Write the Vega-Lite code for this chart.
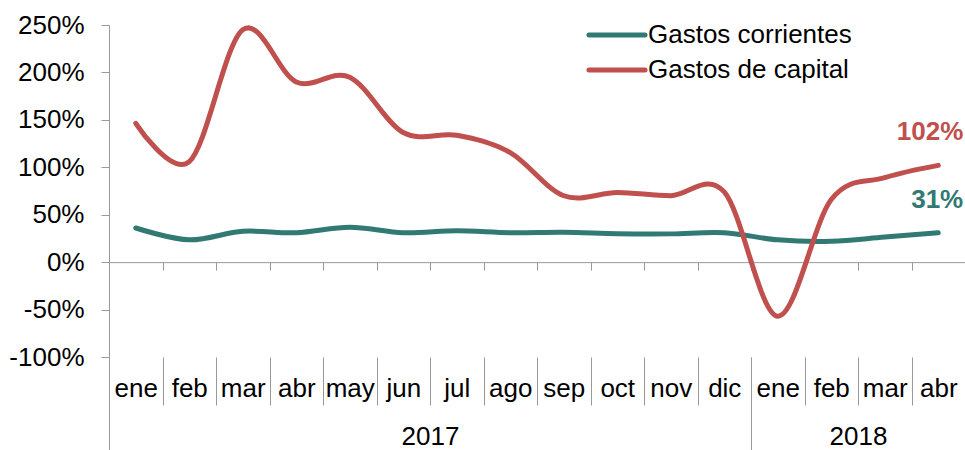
{
  "$schema": "https://vega.github.io/schema/vega-lite/v6.json",
  "autosize": "none",
  "width": 856,
  "height": 332,
  "padding": {"left": 109, "top": 25, "right": 0, "bottom": 93},
  "background": "white",
  "config": {
    "view": {"stroke": null},
    "font": "Liberation Sans",
    "axis": {"grid": false, "title": null, "labelFont": "Liberation Sans", "labelColor": "#000000", "domainColor": "#999999", "tickColor": "#999999"},
    "legend": {"labelFont": "Liberation Sans"}
  },
  "datasets": {
    "s": [
      {"i": 0, "mes": "ene", "anio": "2017", "serie": "Gastos corrientes", "v": 36},
      {"i": 1, "mes": "feb", "anio": "2017", "serie": "Gastos corrientes", "v": 23.5},
      {"i": 2, "mes": "mar", "anio": "2017", "serie": "Gastos corrientes", "v": 32.5},
      {"i": 3, "mes": "abr", "anio": "2017", "serie": "Gastos corrientes", "v": 31},
      {"i": 4, "mes": "may", "anio": "2017", "serie": "Gastos corrientes", "v": 36.8},
      {"i": 5, "mes": "jun", "anio": "2017", "serie": "Gastos corrientes", "v": 31},
      {"i": 6, "mes": "jul", "anio": "2017", "serie": "Gastos corrientes", "v": 33},
      {"i": 7, "mes": "ago", "anio": "2017", "serie": "Gastos corrientes", "v": 31},
      {"i": 8, "mes": "sep", "anio": "2017", "serie": "Gastos corrientes", "v": 31.5},
      {"i": 9, "mes": "oct", "anio": "2017", "serie": "Gastos corrientes", "v": 30},
      {"i": 10, "mes": "nov", "anio": "2017", "serie": "Gastos corrientes", "v": 29.8},
      {"i": 11, "mes": "dic", "anio": "2017", "serie": "Gastos corrientes", "v": 31},
      {"i": 12, "mes": "ene", "anio": "2018", "serie": "Gastos corrientes", "v": 23.5},
      {"i": 13, "mes": "feb", "anio": "2018", "serie": "Gastos corrientes", "v": 22},
      {"i": 14, "mes": "mar", "anio": "2018", "serie": "Gastos corrientes", "v": 26.5},
      {"i": 15, "mes": "abr", "anio": "2018", "serie": "Gastos corrientes", "v": 31},
      {"i": 0, "mes": "ene", "anio": "2017", "serie": "Gastos de capital", "v": 146.4},
      {"i": 1, "mes": "feb", "anio": "2017", "serie": "Gastos de capital", "v": 106},
      {"i": 2, "mes": "mar", "anio": "2017", "serie": "Gastos de capital", "v": 245},
      {"i": 3, "mes": "abr", "anio": "2017", "serie": "Gastos de capital", "v": 190},
      {"i": 4, "mes": "may", "anio": "2017", "serie": "Gastos de capital", "v": 195},
      {"i": 5, "mes": "jun", "anio": "2017", "serie": "Gastos de capital", "v": 136.6},
      {"i": 6, "mes": "jul", "anio": "2017", "serie": "Gastos de capital", "v": 133.8},
      {"i": 7, "mes": "ago", "anio": "2017", "serie": "Gastos de capital", "v": 115.5},
      {"i": 8, "mes": "sep", "anio": "2017", "serie": "Gastos de capital", "v": 70},
      {"i": 9, "mes": "oct", "anio": "2017", "serie": "Gastos de capital", "v": 73.5},
      {"i": 10, "mes": "nov", "anio": "2017", "serie": "Gastos de capital", "v": 70},
      {"i": 11, "mes": "dic", "anio": "2017", "serie": "Gastos de capital", "v": 74},
      {"i": 12, "mes": "ene", "anio": "2018", "serie": "Gastos de capital", "v": -57},
      {"i": 13, "mes": "feb", "anio": "2018", "serie": "Gastos de capital", "v": 66},
      {"i": 14, "mes": "mar", "anio": "2018", "serie": "Gastos de capital", "v": 89},
      {"i": 15, "mes": "abr", "anio": "2018", "serie": "Gastos de capital", "v": 102}
    ]
  },
  "data": {"name": "s"},
  "encoding": {
    "y": {
      "field": "v", "type": "quantitative",
      "scale": {"domain": [-100, 250], "nice": false, "zero": false},
      "axis": {
        "values": [-100, -50, 0, 50, 100, 150, 200, 250],
        "labelExpr": "datum.value + '%'",
        "tickSize": 8,
        "labelFontSize": 26,
        "labelPadding": 17,
        "title": null
      }
    }
  },
  "resolve": {"axis": {"x": "independent"}},
  "layer": [
    {
      "mark": {"type": "line", "interpolate": "cardinal", "strokeWidth": 5, "strokeCap": "round"},
      "encoding": {
        "x": {
          "field": "i", "type": "quantitative",
          "scale": {"domain": [-0.5, 15.5], "nice": false, "zero": false},
          "axis": {
            "orient": "bottom",
            "values": [-0.5, 0.5, 1.5, 2.5, 3.5, 4.5, 5.5, 6.5, 7.5, 8.5, 9.5, 10.5, 11.5, 12.5, 13.5, 14.5, 15.5],
            "tickSize": 8,
            "labels": false,
            "domain": true,
            "offset": {"expr": "scale('y', 0) - height"},
            "title": null
          }
        },
        "color": {
          "field": "serie", "type": "nominal",
          "scale": {"domain": ["Gastos corrientes", "Gastos de capital"], "range": ["#317A74", "#C0504D"]},
          "legend": {
            "orient": "none",
            "legendX": 495,
            "legendY": -3,
            "title": null,
            "padding": 0,
            "symbolType": "M-5,0H5",
            "symbolSize": 126,
            "symbolStrokeWidth": 5,
            "labelFontSize": 26,
            "labelColor": "#000000",
            "labelOffset": 18,
            "labelLimit": 0,
            "rowPadding": 9,
            "encode": {"symbols": {"update": {"strokeCap": {"value": "round"}}}}
          }
        }
      }
    },
    {
      "transform": [
        {"filter": "datum.i == 15"},
        {"calculate": "format(datum.v, '.0f') + '%'", "as": "etiqueta"}
      ],
      "mark": {"type": "text", "align": "right", "baseline": "middle", "dx": 25, "dy": -33, "fontSize": 26, "fontWeight": "bold", "font": "Liberation Sans"},
      "encoding": {
        "x": {
          "field": "i", "type": "quantitative",
          "scale": {"domain": [-0.5, 15.5], "nice": false, "zero": false},
          "axis": {
            "orient": "bottom",
            "values": [-0.5, 0.5, 1.5, 2.5, 3.5, 4.5, 5.5, 6.5, 7.5, 8.5, 9.5, 10.5, 11.5, 12.5, 13.5, 14.5],
            "tickSize": 48,
            "domain": false,
            "labelExpr": "['ene','feb','mar','abr','may','jun','jul','ago','sep','oct','nov','dic','ene','feb','mar','abr'][round(datum.value + 0.5)]",
            "labelOffset": 26.75,
            "labelFontSize": 26,
            "labelBaseline": "middle",
            "labelPadding": -17,
            "labelOverlap": false,
            "labelFlush": false,
            "labelBound": false,
            "title": null
          }
        },
        "text": {"field": "etiqueta"},
        "color": {"field": "serie", "type": "nominal", "legend": null}
      }
    },
    {
      "mark": {"type": "point", "opacity": 0},
      "encoding": {
        "x": {
          "field": "i", "type": "quantitative",
          "scale": {"domain": [-0.5, 15.5], "nice": false, "zero": false},
          "axis": {
            "orient": "bottom",
            "values": [-0.5, 11.5],
            "tickSize": 93,
            "domain": false,
            "labelExpr": "datum.value < 0 ? '2017' : '2018'",
            "labelOffset": {"condition": {"test": "datum.value < 0", "value": 321}, "value": 107},
            "labelFontSize": 26,
            "labelBaseline": "middle",
            "labelPadding": -14,
            "labelOverlap": false,
            "labelFlush": false,
            "labelBound": false,
            "title": null
          }
        }
      }
    }
  ]
}
